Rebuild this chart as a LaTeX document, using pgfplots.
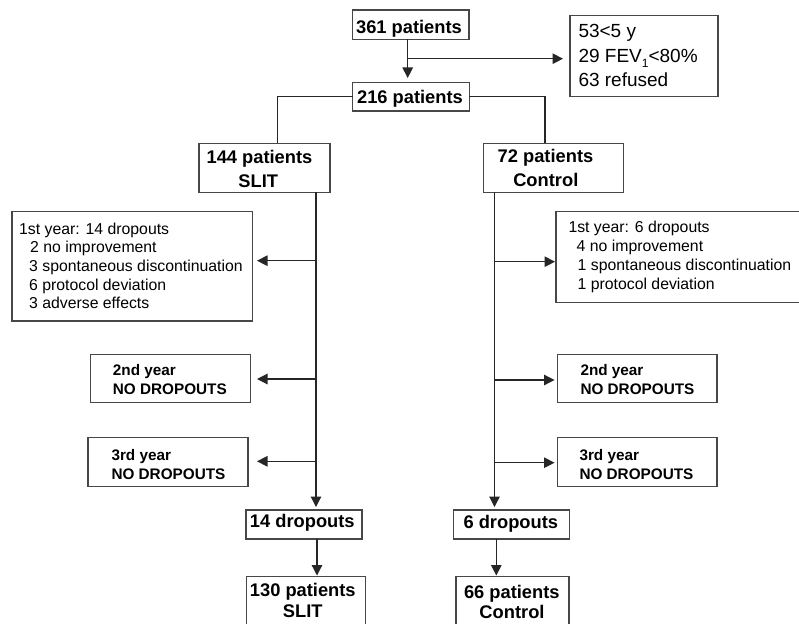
\documentclass[border=0pt]{standalone}
\usepackage{pgfplots}
\pgfplotsset{compat=1.18}
\usepackage{fontspec}
\setmainfont{Liberation Sans}
\usetikzlibrary{arrows.meta}
\newcommand\bigb{\fontsize{18.3}{22}\selectfont\bfseries}
\newcommand\midb{\fontsize{15.3}{19}\selectfont\bfseries}
\newcommand\reg{\fontsize{15.8}{19}\selectfont}
\newcommand\regl{\fontsize{19}{24}\selectfont}
\tikzset{
  bx/.style={color=black!72,line width=1.1pt,mark=none},
  ln/.style={color=black!85,line width=1.2pt,mark=none},
  ar/.style={ln,-{Triangle[length=10.5pt,width=10.5pt]}},
  t/.style={inner sep=0pt,anchor=base},
  tl/.style={inner sep=0pt,anchor=base west}
}
\begin{document}
\begin{tikzpicture}
\begin{axis}[width=799pt,height=623pt,scale only axis,
  xmin=0,xmax=799,ymin=0,ymax=623,y dir=reverse,hide axis,clip=true]
\addplot[draw=none,fill=white] coordinates {(0,0)(799,0)(799,623)(0,623)} -- cycle;
% boxes
\addplot[bx] coordinates {(352.3,10)(469,10)(469,39.3)(352.3,39.3)} -- cycle;
\addplot[bx] coordinates {(570,15.7)(718,15.7)(718,96.7)(570,96.7)} -- cycle;
\addplot[bx] coordinates {(352.7,82.3)(469.3,82.3)(469.3,111)(352.7,111)} -- cycle;
\addplot[bx] coordinates {(199,143.3)(330,143.3)(330,192.3)(199,192.3)} -- cycle;
\addplot[bx] coordinates {(483.3,143.3)(623.3,143.3)(623.3,192.3)(483.3,192.3)} -- cycle;
\addplot[bx] coordinates {(12,211.7)(252.3,211.7)(252.3,321)(12,321)} -- cycle;
\addplot[bx] coordinates {(556,211.7)(805,211.7)(805,302.7)(556,302.7)} -- cycle;
\addplot[bx] coordinates {(90.7,354.3)(250.3,354.3)(250.3,402.7)(90.7,402.7)} -- cycle;
\addplot[bx] coordinates {(88,437.7)(248,437.7)(248,486.3)(88,486.3)} -- cycle;
\addplot[bx] coordinates {(557.3,354.3)(717,354.3)(717,402.7)(557.3,402.7)} -- cycle;
\addplot[bx] coordinates {(557.7,437.7)(717,437.7)(717,486.3)(557.7,486.3)} -- cycle;
\addplot[bx] coordinates {(246,510)(362,510)(362,539)(246,539)} -- cycle;
\addplot[bx] coordinates {(453.7,510)(569.7,510)(569.7,539)(453.7,539)} -- cycle;
\addplot[bx] coordinates {(246.3,576.7)(365.7,576.7)(365.7,640)(246.3,640)} -- cycle;
\addplot[bx] coordinates {(456,576.7)(569,576.7)(569,640)(456,640)} -- cycle;
% connectors
\addplot[ar] coordinates {(407.7,39.3)(407.7,78)};
\addplot[ar] coordinates {(407.7,58.7)(563,58.7)};
\addplot[ln] coordinates {(352.7,96.3)(277.3,96.3)(277.3,143.3)};
\addplot[ln] coordinates {(469.3,96.3)(545,96.3)(545,143.3)};
\addplot[ar] coordinates {(316,192.3)(316,507)};
\addplot[ar] coordinates {(316,260.7)(257,260.7)};
\addplot[ar] coordinates {(316,379)(257,379)};
\addplot[ar] coordinates {(316,461.3)(257,461.3)};
\addplot[ar] coordinates {(494.5,192.3)(494.5,507)};
\addplot[ar] coordinates {(494.5,261.7)(555,261.7)};
\addplot[ar] coordinates {(494.5,380)(554.5,380)};
\addplot[ar] coordinates {(494.5,462.7)(554.5,462.7)};
\addplot[ar] coordinates {(317,539)(317,575.5)};
\addplot[ar] coordinates {(496.3,539)(496.3,575.5)};
% texts
\node[t,font=\bigb] at (axis cs:409,33.3) {361 patients};
\node[t,font=\bigb] at (axis cs:410,103.3) {216 patients};
\node[t,font=\bigb] at (axis cs:259.5,163.3) {144 patients};
\node[t,font=\bigb] at (axis cs:258.3,187.7) {SLIT};
\node[t,font=\bigb] at (axis cs:545.5,162.7) {72 patients};
\node[t,font=\bigb] at (axis cs:545.8,186) {Control};
\node[t,font=\bigb] at (axis cs:302.3,527.3) {14 dropouts};
\node[t,font=\bigb] at (axis cs:510.8,528.3) {6 dropouts};
\node[t,font=\bigb] at (axis cs:302.8,596) {130 patients};
\node[t,font=\bigb] at (axis cs:302.7,617.3) {SLIT};
\node[t,font=\bigb] at (axis cs:511.8,598) {66 patients};
\node[t,font=\bigb] at (axis cs:512,618.3) {Control};
\node[tl,font=\regl] at (axis cs:578.3,37.3) {53<5 y};
\node[tl,font=\regl] at (axis cs:578.3,62.3) {29 FEV\raisebox{-0.3em}{\fontsize{12}{12}\selectfont 1}<80\%};
\node[tl,font=\regl] at (axis cs:578.3,86.7) {63 refused};
\node[tl,font=\reg] at (axis cs:19,234) {1st year: 14 dropouts};
\node[tl,font=\reg] at (axis cs:30,252.6) {2 no improvement};
\node[tl,font=\reg] at (axis cs:29,271.3) {3 spontaneous discontinuation};
\node[tl,font=\reg] at (axis cs:29,290) {6 protocol deviation};
\node[tl,font=\reg] at (axis cs:29,308.8) {3 adverse effects};
\node[tl,font=\reg] at (axis cs:568.3,232.3) {1st year: 6 dropouts};
\node[tl,font=\reg] at (axis cs:576.5,251.3) {4 no improvement};
\node[tl,font=\reg] at (axis cs:577.5,270.3) {1 spontaneous discontinuation};
\node[tl,font=\reg] at (axis cs:577.5,289.3) {1 protocol deviation};
\node[tl,font=\midb] at (axis cs:112.7,375) {2nd year};
\node[tl,font=\midb] at (axis cs:112.7,394) {NO DROPOUTS};
\node[tl,font=\midb] at (axis cs:111.3,460) {3rd year};
\node[tl,font=\midb] at (axis cs:111.3,479) {NO DROPOUTS};
\node[tl,font=\midb] at (axis cs:580.3,375) {2nd year};
\node[tl,font=\midb] at (axis cs:580.3,394) {NO DROPOUTS};
\node[tl,font=\midb] at (axis cs:579.3,460) {3rd year};
\node[tl,font=\midb] at (axis cs:579.3,479) {NO DROPOUTS};
\end{axis}
\pgfresetboundingbox
\path[use as bounding box] (current axis.south west) rectangle (current axis.north east);
\end{tikzpicture}
\end{document}
